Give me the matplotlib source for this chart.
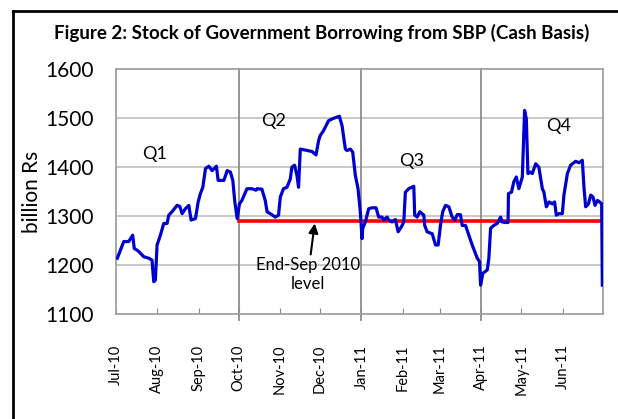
import matplotlib
matplotlib.use('Agg')
import matplotlib.pyplot as plt
import matplotlib.dates as mdates
from matplotlib.lines import Line2D
import pandas as pd

# data: days since 1 Jul 2010, stock in billion Rs
days = [1.0, 5.8, 9.5, 12.5, 13.7, 17.0, 20.8, 24.6, 27.0, 28.3, 29.5, 30.8, 33.3, 35.8,
        38.3, 39.6, 42.0, 45.8, 47.8, 49.6, 52.0, 54.6, 56.3, 59.6, 61.6, 63.3, 65.1, 67.1,
        69.6, 72.1, 75.3, 76.6, 80.9, 83.4, 85.8, 87.6, 89.1, 90.9, 92.6, 94.4, 98.2, 101.9,
        104.9, 105.7, 109.4, 111.9, 113.3, 116.9, 119.4, 121.9, 123.2, 125.6, 128.2, 130.7,
        131.9, 133.9, 135.7, 136.9, 138.2, 141.9, 147.0, 150.0, 151.9, 153.2, 155.7, 159.4,
        163.2, 167.5, 169.5, 172.0, 173.2, 175.7, 177.5, 179.5, 181.5, 183.2, 184.5, 185.0,
        187.0, 189.5, 192.0, 195.0, 197.0, 199.5, 200.7, 203.3, 204.5, 207.0, 209.5, 211.6,
        214.0, 215.8, 217.0, 219.5, 223.3, 224.0, 225.8, 227.8, 230.8, 231.5, 233.3, 237.1,
        239.6, 241.6, 243.3, 245.0, 247.1, 249.6, 252.1, 254.1, 255.9, 258.3, 259.6, 262.1,
        264.6, 267.1, 269.1, 270.9, 272.6, 273.4, 275.1, 278.4, 279.6, 280.9, 283.3, 285.9,
        288.4, 289.6, 292.1, 294.0, 294.3, 296.6, 298.3, 300.2, 302.1, 304.7, 306.4, 307.7,
        308.9, 310.9, 312.2, 314.7, 317.1, 319.7, 320.9, 322.7, 324.7, 327.2, 328.9, 330.2,
        332.2, 334.7, 335.9, 338.5, 340.9, 344.7, 347.2, 349.7, 351.0, 352.2, 354.3, 356.0,
        357.7, 359.2, 361.0, 362.7, 364.2, 364.7]
stock = [1214, 1248, 1248, 1261, 1234, 1228, 1217, 1214, 1210, 1166, 1169, 1241, 1261, 1285,
         1285, 1302, 1309, 1322, 1320, 1305, 1315, 1322, 1292, 1295, 1329, 1346, 1359, 1397,
         1402, 1393, 1402, 1373, 1373, 1393, 1390, 1373, 1329, 1295, 1325, 1332, 1356, 1356,
         1353, 1356, 1355, 1332, 1309, 1303, 1298, 1302, 1339, 1356, 1359, 1376,
         1400, 1404, 1383, 1359, 1437, 1435, 1432, 1425, 1454, 1465, 1475, 1495,
         1500, 1504, 1485, 1437, 1434, 1437, 1431, 1383, 1356, 1309, 1254, 1275,
         1288, 1315, 1317, 1317, 1298, 1298, 1292, 1298, 1292, 1288, 1293, 1268,
         1278, 1288, 1349, 1356, 1361, 1302, 1298, 1309, 1302, 1281, 1268, 1264,
         1241, 1241, 1281, 1309, 1322, 1319, 1298, 1292, 1303, 1303, 1281, 1281,
         1261, 1241, 1227, 1214, 1207, 1159, 1183, 1190, 1214, 1275, 1281, 1285,
         1298, 1288, 1287, 1287, 1346, 1349, 1370, 1380, 1356, 1380, 1516, 1499,
         1387, 1390, 1387, 1407, 1400, 1356, 1349, 1319, 1329, 1325, 1329, 1302,
         1305, 1305, 1343, 1387, 1404, 1412, 1409, 1414, 1356, 1319, 1325, 1343,
         1339, 1322, 1332, 1329, 1325, 1159]

start = pd.Timestamp('2010-07-01')
month_ticks = pd.date_range('2010-07-01', '2011-06-01', freq='MS')
end_sep_level = 1291
level_from = pd.Timestamp('2010-10-01')
level_to = pd.Timestamp('2011-07-01')
quarter_lines = ['2010-10-01', '2011-01-01', '2011-04-01']
quarter_labels = ['Q1', 'Q2', 'Q3', 'Q4']
quarter_label_pos = [('2010-07-30', 1427), ('2010-10-27', 1495), ('2011-02-08', 1413), ('2011-05-29', 1484)]

dates = [start + pd.Timedelta(days=d) for d in days]

plt.rcParams['font.family'] = ['Lato', 'DejaVu Sans']

fig = plt.figure(figsize=(6.18, 4.19), dpi=100)
ax = fig.add_axes([0.1877, 0.2506, 0.7876, 0.584])

gray = '#8c8c8c'
for y in [1200, 1300, 1400, 1500]:
    ax.axhline(y, color='#c4c4c4', lw=1.3, zorder=1)
for q in quarter_lines:
    ax.axvline(pd.Timestamp(q), ymin=-0.025, ymax=1, color=gray, lw=1.3, zorder=1, clip_on=False)

ax.plot([level_from, level_to], [end_sep_level, end_sep_level], color='#ff0000', lw=2.6, zorder=2)
ax.plot(dates, stock, color='#0000cc', lw=2.3, zorder=3)

for lab, (d, v) in zip(quarter_labels, quarter_label_pos):
    ax.text(pd.Timestamp(d), v, lab, fontsize=13, ha='center', va='center')

ax.annotate('End-Sep 2010\nlevel', xy=(pd.Timestamp('2010-11-27'), 1285),
            xytext=(pd.Timestamp('2010-11-22'), 1216), ha='center', va='top',
            fontsize=12, linespacing=1.25,
            arrowprops=dict(arrowstyle='-|>', color='black', lw=1.5, mutation_scale=14,
                            shrinkA=0, shrinkB=0))

ax.set_xlim(start, pd.Timestamp('2011-07-01'))
ax.set_ylim(1100, 1600)
ax.set_yticks([1100, 1200, 1300, 1400, 1500, 1600])
ax.tick_params(axis='y', length=0, pad=16, labelsize=15)
ax.set_xticks(month_ticks)
ax.xaxis.set_major_formatter(mdates.DateFormatter('%b-%y'))
ax.tick_params(axis='x', direction='in', length=4, color=gray, pad=22, labelsize=10.5,
               labelrotation=90)
for s in ax.spines.values():
    s.set_color('#a0a0a0')
    s.set_linewidth(1.3)
ax.set_ylabel('billion Rs', fontsize=15, labelpad=2)

fig.text(0.52, 0.921, 'Figure 2: Stock of Government Borrowing from SBP (Cash Basis)',
         fontsize=13.5, fontweight='bold', ha='center', va='center')

# outer frame (only left and top edge are inside the picture)
fig.add_artist(Line2D([0.021, 0.021], [0, 0.973], transform=fig.transFigure, color='black', lw=2))
fig.add_artist(Line2D([0.021, 1.0], [0.973, 0.973], transform=fig.transFigure, color='black', lw=2))

fig.savefig('out.png', dpi=100)
